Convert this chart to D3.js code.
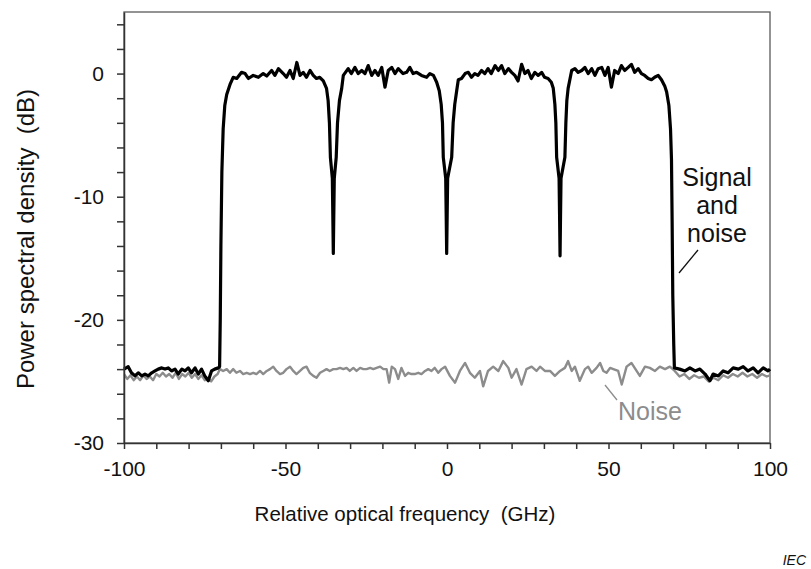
<!DOCTYPE html>
<html>
<head>
<meta charset="utf-8">
<style>
    body
    {
        margin:0;
        background:#ffffff;
    }
    text
    {
        font-family:"Liberation Sans", Arial, sans-serif;
        white-space:pre;
    }
</style>
<script type = "text/javascript" src = "https://d3js.org/d3.v7.min.js"></script>
</head>
<body>
<svg id="chart"></svg>
<script>
    // signal + noise trace (black)
    var sigFreq = [-100,-98.7,-97.7,-96.6,-95.6,-94.5,-93.5,-92.5,-91.4,-90.4,-89.4,-88.3,-87.3,-86.3,-85.3,-84.2,-83.2,-82.1,-81.1,-80.1,-79.1,-78,-77,-76,-75,-73.9,-72.9,-71.9,-70.8,-70.4,
        -70.2,-70,-69.7,-69.3,-68.8,-68.2,-67.2,-66.2,-65.1,-63.6,-62.5,-61.5,-60,-58.4,-56.9,-55.8,-54.3,-53.3,-52.2,-50.7,-49.7,-48.6,-47.6,-46.5,-45.5,-44.5,-43.5,-42.4,-41.4,-40.4,-39.4,-38.3,
        -37.3,-36.8,-36.4,-36.1,-35.5,-35.35,-35.2,-35.05,-34.9,-34.3,-33.9,-33.3,-32.6,
        -32.1,-30.6,-29.6,-28.5,-27.5,-26.4,-25.4,-24.4,-23.3,-22.3,-21.3,-20.2,-19.2,-18.2,-17.1,-16.1,-15.1,-13.6,-12.5,-11.5,-10.5,-9.4,-7.9,-6.3,-5.3,-4.2,-3.2,
        -2.4,-1.8,-1.4,-1.15,-0.4,-0.25,-0.1,0.05,0.2,1.45,1.9,2.4,3,
        3.5,4.5,5.6,6.6,7.6,8.6,9.6,10.7,11.7,12.7,13.7,14.9,15.9,16.9,17.9,19,20,21,22,23.1,24.1,25.1,26.1,27.2,28.2,29.3,30.2,31.3,32.3,
        32.9,33.4,33.7,33.95,34.7,34.85,35,35.15,35.3,36.5,36.8,37.1,37.5,
        38.6,39.6,40.6,41.7,42.7,43.7,44.8,45.8,46.8,47.9,48.9,49.9,50.9,51.9,53,54,55,56.1,57.1,58.1,59.2,60.2,61.2,62.3,63.3,64.3,65.4,66.4,67.4,68,68.7,69.2,69.5,69.7,69.9,70.2,70.4,
        72,73.7,75.2,76.8,78.3,79.9,81.4,82.4,84,85.5,87,88.6,90.2,91.7,93.2,94.8,96.3,97.9,99.4,100];
    var sigDb = [-24,-23.8,-24.3,-24.55,-24.3,-24.55,-24.4,-24.55,-24.3,-24.15,-24,-23.9,-24,-23.9,-24.15,-24,-24.4,-24,-24.15,-23.9,-24.3,-23.9,-24.4,-24,-24.55,-24.95,-24.15,-24,-23.9,-23.8,
        -20,-14,-8,-4.5,-2.6,-1.7,-0.9,-0.3,-0.4,0.1,0,-0.4,-0.15,-0.3,0,-0.2,0.25,-0.15,0.4,0,-0.3,0.25,-0.4,0.9,-0.15,0.1,-0.3,0.25,-0.15,-0.4,-0.3,-0.6,
        -1.2,-2.2,-4,-6.8,-8.5,-11.5,-14.6,-11.5,-8.5,-6.8,-4,-2.2,-1.2,
        -0.15,0.4,0,0.5,0,0.25,0,0.65,-0.15,0.25,-0.15,0.5,-1.1,0.25,0.5,0,0.4,0,0.1,0.5,0,0.1,-0.15,-0.3,0,-0.15,-0.7,
        -1.4,-2.5,-4,-6.8,-8.5,-11.5,-14.6,-11.5,-8.5,-6.8,-4,-2.5,-1.4,
        -0.5,-0.4,0,0.1,-0.3,0,-0.15,0.25,0,0.4,0,0.65,0.25,0.65,0,0.4,0.1,-0.15,-0.6,0.75,0,0.25,-0.4,0.1,-0.15,0.1,-0.3,-0.4,-0.7,
        -1.2,-2.5,-4,-6.8,-8.5,-11.5,-14.8,-11.5,-8.5,-6.8,-4,-2.2,-1.2,
        0.25,0.4,0.1,0.25,0.5,0,0.4,-0.15,0.4,0.5,-0.15,0.5,-1.1,0.25,0,0.65,0.25,0.5,0.75,0.1,0.4,0,-0.15,-0.4,-0.5,-0.3,-0.15,-0.5,-1,-1.5,-2.6,-4.5,-7,-12,-18,-22,-23.9,
        -24,-24.15,-23.9,-24.15,-24,-24.4,-24.95,-24.4,-24.55,-24.15,-24.3,-23.9,-24,-23.8,-24.15,-23.9,-24.3,-23.9,-24.15,-24];

    // noise-only trace (grey)
    var noiseFreq = [-100,-99,-98,-97,-96,-95,-94,-93,-92,-91,-90,-89,-88,-87,-86,-85,-84,-83,-82,-81,-80,-79,-78,-77,-76,-75,-74,-73,-72,-71,
        -70.3,-69.3,-68.2,-67.2,-66.2,-65.2,-64.1,-63.1,-62,-61,-60,-59,-57.9,-56.9,-55.8,-54.8,-53.8,-52.8,-51.7,-50.7,-49.7,-48.6,-47.6,-46.6,-45.5,-44.5,-43.5,-42.5,-41.4,-40.4,
        -39.3,-38.3,-37.3,-36.3,-35.2,-34.2,-33.1,-32.1,-31.1,-30.1,-29,-28,-26.9,-25.9,-24.9,-23.8,-22.8,-21.8,-20.7,-19.7,-18.7,-17.9,-17.1,-16.1,-15.1,-14.1,-13,-12,-11,-10,
        -8.9,-7.9,-6.8,-5.8,-4.8,-3.8,-2.7,-1.7,-0.6,0.9,2.5,4,5.6,7.1,8.6,10.2,11.2,12.7,14.3,15.9,17.4,19,20,21.5,23.1,24.6,26.2,27.7,28.8,30.3,
        31.9,33.4,35,36.5,37.5,38.6,39.6,41.1,42.7,43.7,44.8,46.3,47.4,48.4,49.4,50.5,51.5,53,54.1,55.6,57.1,58.7,59.7,61.3,62.8,64.4,65.9,67.5,69,70.5,
        72,73.5,75,76.5,78,79.5,81,82.5,84,85.5,87,88.5,90,91.5,93,94.5,96,97.5,99,100];
    var noiseDb = [-24.4,-24.8,-24.5,-24.9,-24.6,-24.9,-24.5,-24.8,-24.6,-24.9,-24.4,-24.6,-24.3,-24.6,-24.4,-24.7,-24.3,-24.8,-24.4,-24.6,-24.3,-24.7,-24.4,-24.8,-24.5,-24.9,-24.7,-25,-24.6,-24.4,
        -24,-24.15,-24,-24.3,-24,-24.3,-24.15,-24.4,-24.3,-24.4,-24.3,-24.4,-24.15,-24.4,-24.15,-24,-23.8,-24.15,-24.4,-24.3,-24,-23.8,-24.15,-24.4,-24.15,-23.9,-23.8,-24.3,-24.55,-24.7,
        -24.3,-24.15,-24,-24.15,-24,-24,-23.9,-24,-23.9,-24.15,-23.9,-24.15,-23.9,-24,-24,-23.9,-24,-23.9,-23.8,-24,-24,-25.1,-23.8,-24,-24.8,-23.9,-24.55,-24.3,-24.4,-24.4,
        -24.3,-24.4,-24.15,-24,-24.15,-23.9,-24.3,-24,-23.8,-24.55,-25.1,-24.15,-23.5,-24.3,-24.7,-24.15,-25.4,-24.15,-23.8,-24.15,-23.35,-23.9,-24.7,-24,-25.25,-24,-23.8,-24.15,-23.8,-24.15,
        -24.15,-24.55,-24.15,-23.9,-23.35,-24.15,-23.8,-24.95,-24,-23.8,-24.3,-23.9,-23.5,-24.15,-24.3,-23.9,-24,-24.15,-25.25,-23.8,-23.5,-24.15,-24.55,-23.8,-23.9,-24.15,-23.8,-24,-23.8,-24.15,
        -24.6,-24.4,-24.8,-24.5,-24.7,-24.6,-25,-24.7,-24.9,-24.5,-24.7,-24.4,-24.6,-24.3,-24.6,-24.4,-24.7,-24.4,-24.6,-24.5];

    var xMinorTicks = d3.range(-100,101,10);
    var xLabelTicks = [-100,-50,0,50,100];
    var yMinorTicks = d3.range(-30,5,2);
    var yLabelTicks = [-30,-20,-10,0];

    var screen = {width:811,height:569};
    var margins = {left:124,top:12,right:41,bottom:126};
    var plotW = screen.width-margins.left-margins.right;
    var plotH = screen.height-margins.top-margins.bottom;

    var svg = d3.select("#chart")
        .attr("width",screen.width)
        .attr("height",screen.height);

    var xScale = d3.scaleLinear()
        .domain([-100,100])
        .range([margins.left,margins.left+plotW]);
    var yScale = d3.scaleLinear()
        .domain([-30,5])
        .range([margins.top+plotH,margins.top]);

    var toPoints = function(fs,ds)
    {
        return fs.map(function(f,i){return [f,ds[i]];});
    }

    var line = d3.line()
        .x(function(d){return xScale(d[0]);})
        .y(function(d){return yScale(d[1]);});

    // frame (top and right sides)
    svg.append("rect")
        .attr("x",margins.left)
        .attr("y",margins.top)
        .attr("width",plotW)
        .attr("height",plotH)
        .attr("fill","none")
        .attr("stroke","#5a5a5a")
        .attr("stroke-width",1.3);

    // traces
    svg.append("path")
        .datum(toPoints(noiseFreq,noiseDb))
        .attr("d",line)
        .attr("fill","none")
        .attr("stroke","#8c8c8c")
        .attr("stroke-width",2.4)
        .attr("stroke-linejoin","round");

    svg.append("path")
        .datum(toPoints(sigFreq,sigDb))
        .attr("d",line)
        .attr("fill","none")
        .attr("stroke","#000000")
        .attr("stroke-width",3.2)
        .attr("stroke-linejoin","round");

    // axes
    var xAxis = d3.axisBottom(xScale)
        .tickValues(xMinorTicks)
        .tickSize(6)
        .tickSizeOuter(0)
        .tickPadding(12)
        .tickFormat(function(d){return xLabelTicks.indexOf(d)>=0 ? d : "";});
    var yAxis = d3.axisLeft(yScale)
        .tickValues(yMinorTicks)
        .tickSize(7)
        .tickSizeOuter(0)
        .tickPadding(13)
        .tickFormat(function(d){return yLabelTicks.indexOf(d)>=0 ? d : "";});

    var gx = svg.append("g")
        .attr("transform","translate(0,"+(margins.top+plotH)+")")
        .call(xAxis);
    var gy = svg.append("g")
        .attr("transform","translate("+margins.left+",0)")
        .call(yAxis);

    [gx,gy].forEach(function(g)
    {
        g.select(".domain").attr("stroke","#333333").attr("stroke-width",1.5);
        g.selectAll(".tick line").attr("stroke","#333333").attr("stroke-width",1.5);
        g.selectAll(".tick text")
            .attr("fill","#111111")
            .style("font-size","21px")
            .style("font-family","'Liberation Sans', Arial, sans-serif");
    });

    // axis titles
    svg.append("text")
        .attr("x",405)
        .attr("y",521)
        .attr("text-anchor","middle")
        .attr("fill","#111111")
        .style("font-size","20.5px")
        .text("Relative optical frequency  (GHz)");

    svg.append("text")
        .attr("transform","translate(34,239) rotate(-90)")
        .attr("text-anchor","middle")
        .attr("fill","#111111")
        .style("font-size","24px")
        .text("Power spectral density  (dB)");

    // annotations
    var sigLabel = svg.append("text")
        .attr("text-anchor","middle")
        .attr("fill","#111111")
        .style("font-size","25px");
    ["Signal","and","noise"].forEach(function(t,i)
    {
        sigLabel.append("tspan")
            .attr("x",717)
            .attr("y",186+i*28)
            .text(t);
    });
    svg.append("line")
        .attr("x1",698).attr("y1",250)
        .attr("x2",679).attr("y2",273)
        .attr("stroke","#111111")
        .attr("stroke-width",1.3);

    svg.append("text")
        .attr("x",650)
        .attr("y",420)
        .attr("text-anchor","middle")
        .attr("fill","#8c8c8c")
        .style("font-size","25px")
        .text("Noise");
    svg.append("line")
        .attr("x1",605).attr("y1",385)
        .attr("x2",617).attr("y2",400)
        .attr("stroke","#8c8c8c")
        .attr("stroke-width",1.3);

    svg.append("text")
        .attr("x",806)
        .attr("y",565)
        .attr("text-anchor","end")
        .attr("fill","#111111")
        .style("font-size","14px")
        .style("font-style","italic")
        .text("IEC");
</script>
</body>
</html>
